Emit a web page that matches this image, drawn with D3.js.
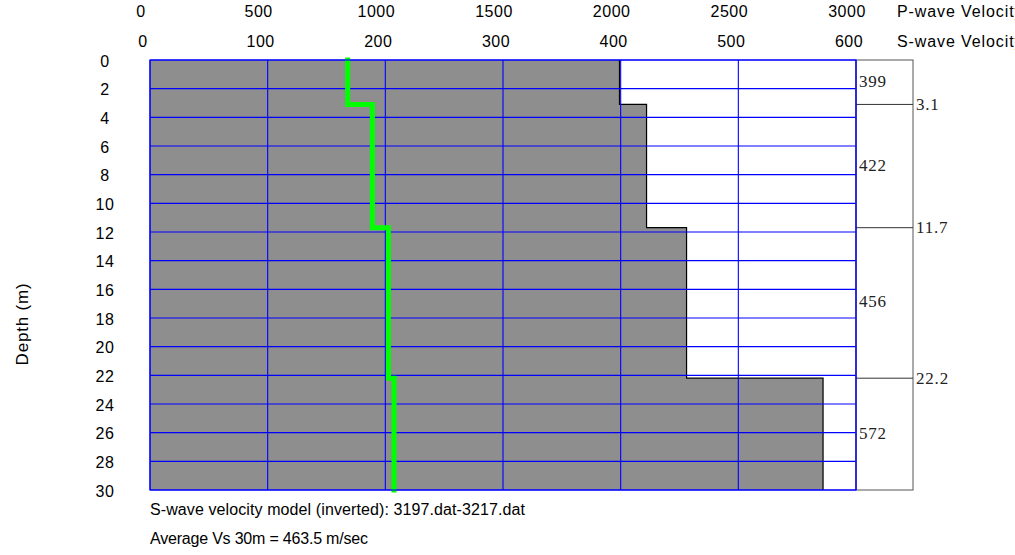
<!DOCTYPE html>
<html>
<head>
<meta charset="utf-8">
<script src="https://cdn.jsdelivr.net/npm/d3@7"></script>
<style>
  body { margin: 0; background: #fff; }
  svg { display: block; overflow: hidden; }
  text { font-family: Arial, "Liberation Sans", sans-serif; font-size: 16px; fill: #000; }
  .serif { font-family: "Times New Roman", "Liberation Serif", serif; font-size: 17px; fill: #222; letter-spacing: 0.8px; }
</style>
</head>
<body>
<script>
// Tick labels
var depthTicks = [0, 2, 4, 6, 8, 10, 12, 14, 16, 18, 20, 22, 24, 26, 28, 30];
var vsTicks = [0, 100, 200, 300, 400, 500, 600];
var vpTicks = [0, 500, 1000, 1500, 2000, 2500, 3000];

// Layer model
var layerTop = [0, 3.1, 11.7, 22.2];
var layerBottom = [3.1, 11.7, 22.2, 30];
var vsLayer = [399, 422, 456, 572];
var vpLayer = [840, 945, 1013, 1037];
var boundaries = [3.1, 11.7, 22.2];

var width = 1015, height = 555;
var plot = {left: 150, right: 856, top: 60, bottom: 490};

var svg = d3.select("body").append("svg")
    .attr("width", width)
    .attr("height", height);

var y = d3.scaleLinear().domain([0, 30]).range([plot.top, plot.bottom]);
var xs = d3.scaleLinear().domain([0, 600]).range([plot.left, plot.right]);
var xp = d3.scaleLinear().domain([0, 3000]).range([plot.left, plot.right]);

// step points for a layered profile
function steps(vals) {
    var pts = [];
    vals.forEach(function(v, i) {
        pts.push([v, layerTop[i]]);
        pts.push([v, layerBottom[i]]);
    });
    return pts;
}

var vsPts = steps(vsLayer);

// Gray S-wave area
var area = [[0, 0]].concat(vsPts).concat([[0, 30]]);
svg.append("path")
    .attr("d", d3.line().x(d => xs(d[0])).y(d => y(d[1]))(area) + "Z")
    .attr("fill", "#8e8e8e");

svg.append("path")
    .attr("d", d3.line().x(d => xs(d[0])).y(d => y(d[1]))(vsPts))
    .attr("fill", "none")
    .attr("stroke", "#000")
    .attr("stroke-width", 1.2);

// Grid
svg.append("g").selectAll("line")
    .data(depthTicks)
    .enter().append("line")
    .attr("x1", plot.left).attr("x2", plot.right)
    .attr("y1", d => y(d)).attr("y2", d => y(d))
    .attr("stroke", "#0000ff").attr("stroke-width", 1.1);

svg.append("g").selectAll("line")
    .data(vsTicks)
    .enter().append("line")
    .attr("x1", d => xs(d)).attr("x2", d => xs(d))
    .attr("y1", plot.top).attr("y2", plot.bottom)
    .attr("stroke", "#0000ff").attr("stroke-width", 1.1);

// Green P-wave line
svg.append("path")
    .attr("d", d3.line().x(d => xp(d[0])).y(d => y(d[1]))(steps(vpLayer)))
    .attr("fill", "none")
    .attr("stroke", "#00ff00")
    .attr("stroke-width", 5)
    .attr("stroke-linecap", "square");

// Top axes labels
svg.append("g").selectAll("text")
    .data(vpTicks)
    .enter().append("text")
    .attr("x", d => xp(d) - 9)
    .attr("y", 17)
    .attr("text-anchor", "middle")
    .attr("letter-spacing", "0.5px")
    .text(d => d);

svg.append("g").selectAll("text")
    .data(vsTicks)
    .enter().append("text")
    .attr("x", d => xs(d) - 7)
    .attr("y", 47)
    .attr("text-anchor", "middle")
    .attr("letter-spacing", "0.5px")
    .text(d => d);

svg.append("text").attr("x", 897).attr("y", 17)
    .attr("letter-spacing", "0.9px")
    .text("P-wave Velocity (m/sec)");
svg.append("text").attr("x", 897).attr("y", 47)
    .attr("letter-spacing", "0.9px")
    .text("S-wave Velocity (m/sec)");

// Depth labels
svg.append("g").selectAll("text")
    .data(depthTicks)
    .enter().append("text")
    .attr("x", 105)
    .attr("y", d => y(d) + 6.5)
    .attr("text-anchor", "middle")
    .attr("letter-spacing", "0.5px")
    .text(d => d);

svg.append("text")
    .attr("transform", "translate(28,324) rotate(-90)")
    .attr("text-anchor", "middle")
    .style("font-size", "17px")
    .attr("letter-spacing", "0.8px")
    .text("Depth (m)");

// Right layer panel
var panelR = 913;
svg.append("rect")
    .attr("x", plot.right).attr("y", plot.top)
    .attr("width", panelR - plot.right).attr("height", plot.bottom - plot.top)
    .attr("fill", "none").attr("stroke", "#555").attr("stroke-width", 1);

svg.append("g").selectAll("line")
    .data(boundaries)
    .enter().append("line")
    .attr("x1", plot.right).attr("x2", panelR)
    .attr("y1", d => y(d)).attr("y2", d => y(d))
    .attr("stroke", "#333").attr("stroke-width", 1);

svg.append("g").selectAll("text")
    .data(boundaries)
    .enter().append("text")
    .attr("class", "serif")
    .attr("x", 916)
    .attr("y", d => y(d) + 5.5)
    .text(d => d);

svg.append("g").selectAll("text")
    .data(vsLayer)
    .enter().append("text")
    .attr("class", "serif")
    .attr("x", 859)
    .attr("y", (d, i) => y((layerTop[i] + layerBottom[i]) / 2) + 4.5)
    .text(d => d);

// Plot border
svg.append("rect")
    .attr("x", plot.left).attr("y", plot.top)
    .attr("width", plot.right - plot.left).attr("height", plot.bottom - plot.top)
    .attr("fill", "none").attr("stroke", "#0000ff").attr("stroke-width", 1.1);

// Notes
svg.append("text").attr("x", 150).attr("y", 515)
    .attr("letter-spacing", "0.1px")
    .text("S-wave velocity model (inverted): 3197.dat-3217.dat");
svg.append("text").attr("x", 150).attr("y", 544)
    .attr("letter-spacing", "-0.2px")
    .text("Average Vs 30m = 463.5 m/sec");
</script>
</body>
</html>
